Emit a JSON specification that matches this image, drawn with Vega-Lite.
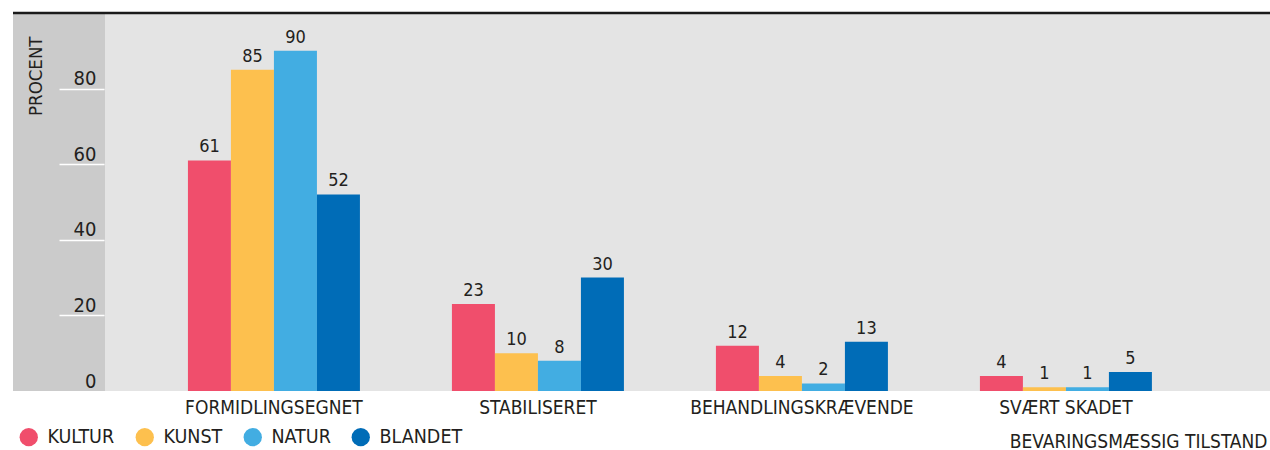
{
  "$schema": "https://vega.github.io/schema/vega-lite/v6.json",
  "width": 1257,
  "height": 378,
  "autosize": "none",
  "padding": {"left": 13, "top": 13, "right": 0, "bottom": 59},
  "background": "white",
  "config": {
    "view": {"stroke": null},
    "font": "Liberation Sans Narrow, DejaVu Sans Condensed, Roboto Condensed, sans-serif"
  },
  "data": {
    "values": [
      {"cat": "FORMIDLINGSEGNET", "group": "KULTUR", "value": 61},
      {"cat": "FORMIDLINGSEGNET", "group": "KUNST", "value": 85},
      {"cat": "FORMIDLINGSEGNET", "group": "NATUR", "value": 90},
      {"cat": "FORMIDLINGSEGNET", "group": "BLANDET", "value": 52},
      {"cat": "STABILISERET", "group": "KULTUR", "value": 23},
      {"cat": "STABILISERET", "group": "KUNST", "value": 10},
      {"cat": "STABILISERET", "group": "NATUR", "value": 8},
      {"cat": "STABILISERET", "group": "BLANDET", "value": 30},
      {"cat": "BEHANDLINGSKRÆVENDE", "group": "KULTUR", "value": 12},
      {"cat": "BEHANDLINGSKRÆVENDE", "group": "KUNST", "value": 4},
      {"cat": "BEHANDLINGSKRÆVENDE", "group": "NATUR", "value": 2},
      {"cat": "BEHANDLINGSKRÆVENDE", "group": "BLANDET", "value": 13},
      {"cat": "SVÆRT SKADET", "group": "KULTUR", "value": 4},
      {"cat": "SVÆRT SKADET", "group": "KUNST", "value": 1},
      {"cat": "SVÆRT SKADET", "group": "NATUR", "value": 1},
      {"cat": "SVÆRT SKADET", "group": "BLANDET", "value": 5}
    ]
  },
  "layer": [
    {
      "data": {"values": [{}]},
      "mark": {
        "type": "rect",
        "fill": {
          "gradient": "linear",
          "x1": 0, "x2": 1, "y1": 0, "y2": 0,
          "stops": [
            {"offset": 0, "color": "#cbcbcb"},
            {"offset": 0.0732, "color": "#cbcbcb"},
            {"offset": 0.0732, "color": "#e4e4e4"},
            {"offset": 1, "color": "#e4e4e4"}
          ]
        }
      },
      "encoding": {}
    },
    {
      "mark": {"type": "bar"},
      "encoding": {
        "x": {
          "field": "cat",
          "type": "nominal",
          "sort": null,
          "scale": {"paddingInner": 0.3485, "paddingOuter": 0.555, "align": 0.597},
          "axis": {
            "orient": "bottom",
            "domain": false,
            "ticks": false,
            "grid": false,
            "labelAngle": 0,
            "labelLimit": 500,
            "labelPadding": 22,
            "labelBaseline": "alphabetic",
            "labelFontSize": 19,
            "labelColor": "#231f20",
            "title": "BEVARINGSMÆSSIG TILSTAND",
            "titleFontSize": 19,
            "titleFontWeight": "normal",
            "titleColor": "#231f20",
            "titleLimit": 500,
            "titleAnchor": "end",
            "titleAlign": "right",
            "titleBaseline": "alphabetic",
            "titleX": 1254,
            "titleY": 56
          }
        },
        "xOffset": {
          "field": "group",
          "type": "nominal",
          "sort": ["KULTUR", "KUNST", "NATUR", "BLANDET"],
          "scale": {"paddingInner": 0, "paddingOuter": 0}
        },
        "y": {
          "field": "value",
          "type": "quantitative",
          "scale": {"domain": [0, 100], "nice": false},
          "axis": {
            "zindex": 1,
            "domain": false,
            "grid": false,
            "offset": -91,
            "values": [0, 20, 40, 60, 80],
            "tickSize": 45,
            "tickWidth": 1.3,
            "tickColor": "white",
            "tickOpacity": {"condition": {"test": "datum.value === 0", "value": 0}, "value": 1},
            "labelPadding": -37,
            "labelAlign": "right",
            "labelBaseline": "alphabetic",
            "labelOffset": -4,
            "labelFontSize": 20,
            "labelColor": "#231f20",
            "title": "PROCENT",
            "titleFontSize": 18.5,
            "titleFontWeight": "normal",
            "titleColor": "#231f20",
            "titleAngle": 270,
            "titleAlign": "right",
            "titleBaseline": "alphabetic",
            "titleX": -63,
            "titleY": 23
          }
        },
        "color": {
          "field": "group",
          "type": "nominal",
          "sort": ["KULTUR", "KUNST", "NATUR", "BLANDET"],
          "scale": {
            "domain": ["KULTUR", "KUNST", "NATUR", "BLANDET"],
            "range": ["#f04e6c", "#fdc04e", "#42ade2", "#006cb7"]
          },
          "legend": {
            "orient": "none",
            "legendX": 6,
            "legendY": 414,
            "direction": "horizontal",
            "title": null,
            "padding": 0,
            "symbolType": "circle",
            "symbolSize": 335,
            "symbolStrokeWidth": 0,
            "symbolOpacity": 1,
            "labelFontSize": 19.5,
            "labelColor": "#231f20",
            "labelOffset": 9,
            "columnPadding": 20
          }
        }
      }
    },
    {
      "mark": {"type": "text", "dy": -8, "baseline": "alphabetic", "fontSize": 18, "color": "#231f20"},
      "encoding": {
        "x": {"field": "cat", "type": "nominal", "sort": null},
        "xOffset": {"field": "group", "type": "nominal", "sort": ["KULTUR", "KUNST", "NATUR", "BLANDET"]},
        "y": {"field": "value", "type": "quantitative"},
        "text": {"field": "value", "type": "quantitative"}
      }
    },
    {
      "data": {"values": [{}]},
      "mark": {"type": "rule", "color": "#1a1a1a", "strokeWidth": 2.5},
      "encoding": {"y": {"datum": 100}}
    }
  ]
}
